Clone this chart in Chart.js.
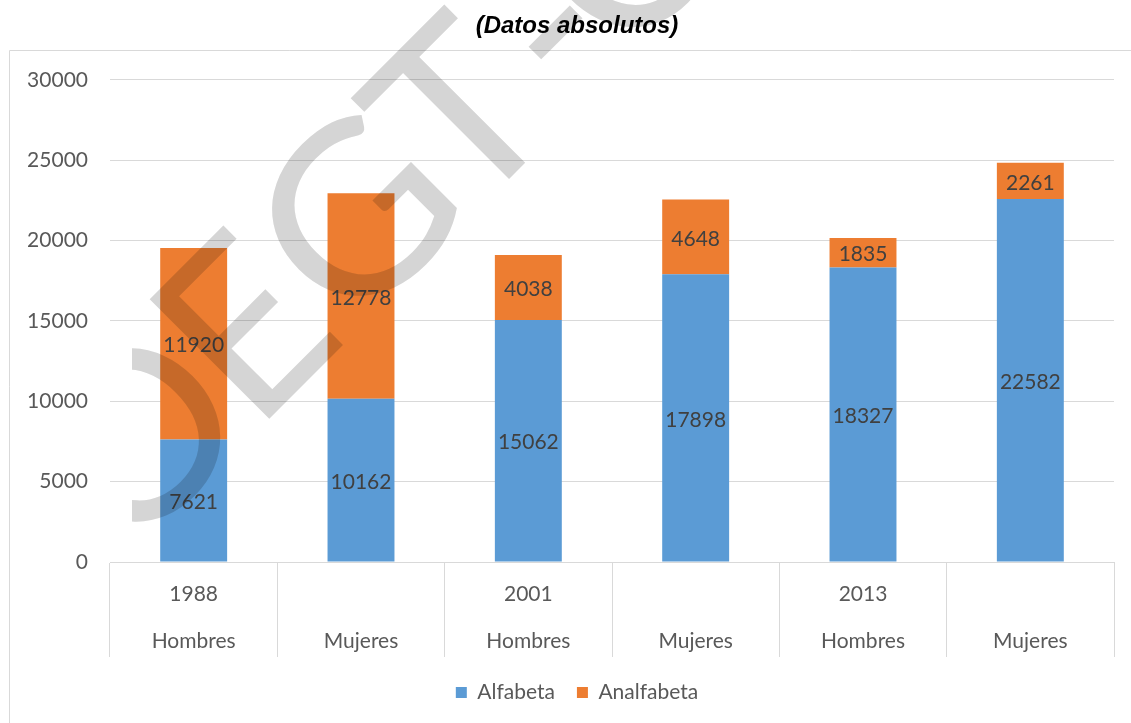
<!DOCTYPE html>
<html>
<head>
<meta charset="utf-8">
<script src="https://cdn.jsdelivr.net/npm/chart.js@4/dist/chart.umd.min.js"></script>
<style>
html,body{margin:0;padding:0;background:#fff;}
#wrap{width:1131px;height:723px;position:relative;}
</style>
</head>
<body>
<div id="wrap"><canvas id="c" width="1131" height="723"></canvas></div>
<script>
const titleText = '(Datos absolutos)';
const years = ['1988', '', '2001', '', '2013', ''];
const genders = ['Hombres', 'Mujeres', 'Hombres', 'Mujeres', 'Hombres', 'Mujeres'];
const alfabeta = [7621, 10162, 15062, 17898, 18327, 22582];
const analfabeta = [11920, 12778, 4038, 4648, 1835, 2261];
const seriesNames = ['Alfabeta', 'Analfabeta'];
const yMin = 0, yMax = 30000, yStep = 5000;
const watermarkLetters = ['O', 'E', 'G', 'T', '-', 'C'];

const labels = years.map((y, i) => [y, genders[i]]);
const FONT = 'Lato, "Open Sans", sans-serif';

const frame = {
  id: 'frame',
  beforeDraw(chart) {
    const ctx = chart.ctx;
    ctx.save();
    ctx.strokeStyle = '#d9d9d9';
    ctx.lineWidth = 1;
    ctx.beginPath();
    ctx.moveTo(9.5, 723);
    ctx.lineTo(9.5, 50.5);
    ctx.lineTo(1131, 50.5);
    ctx.stroke();
    ctx.restore();
  }
};

const valueLabels = {
  id: 'valueLabels',
  afterDatasetsDraw(chart) {
    const ctx = chart.ctx;
    ctx.save();
    ctx.font = '21px ' + FONT;
    ctx.fillStyle = '#404040';
    ctx.textAlign = 'center';
    ctx.textBaseline = 'middle';
    chart.data.datasets.forEach((ds, di) => {
      const meta = chart.getDatasetMeta(di);
      meta.data.forEach((el, i) => {
        const p = el.getProps(['x', 'y', 'base'], true);
        ctx.fillText(String(ds.data[i]), p.x, (p.y + p.base) / 2 + 2);
      });
    });
    ctx.restore();
  }
};

const watermark = {
  id: 'watermark',
  afterDraw(chart) {
    const ctx = chart.ctx;
    ctx.save();
    ctx.beginPath();
    ctx.rect(132, 0, 1131 - 132, 723);
    ctx.clip();
    ctx.globalCompositeOperation = 'multiply';
    ctx.fillStyle = '#d5d5d5';
    ctx.translate(266, 422);
    ctx.rotate(-Math.PI / 4);
    ctx.font = '236px ' + FONT;
    ctx.textAlign = 'center';
    ctx.textBaseline = 'alphabetic';
    const pos = [-103, 51, 210, 355, 480, 582];
    const stretch = [1, 1, 1.05, 1, 1, 1];
    watermarkLetters.forEach((ch, i) => {
      ctx.save();
      ctx.translate(pos[i], 0);
      ctx.scale(stretch[i], 1);
      ctx.fillText(ch, 0, 0);
      ctx.restore();
    });
    ctx.restore();
  }
};

new Chart(document.getElementById('c'), {
  type: 'bar',
  data: {
    labels: labels,
    datasets: [
      { label: seriesNames[0], data: alfabeta, backgroundColor: '#5b9bd5' },
      { label: seriesNames[1], data: analfabeta, backgroundColor: '#ed7d31' }
    ]
  },
  options: {
    responsive: false,
    animation: false,
    devicePixelRatio: 1,
    layout: { padding: { left: 40, right: 17, top: 0, bottom: 10 } },
    datasets: { bar: { categoryPercentage: 1, barPercentage: 0.4 } },
    scales: {
      x: {
        stacked: true,
        offset: true,
        border: { display: true, color: '#d9d9d9', width: 1 },
        grid: { display: true, offset: true, drawOnChartArea: false, drawTicks: true, tickLength: 95, color: '#d9d9d9', lineWidth: 1 },
        ticks: { color: '#595959', font: { family: FONT, size: 21, lineHeight: 47 / 21 }, padding: -86, maxRotation: 0, autoSkip: false },
        afterFit(s) { s.height = 98; }
      },
      y: {
        stacked: true,
        min: yMin, max: yMax,
        border: { display: false },
        grid: { color: '#d9d9d9', lineWidth: 1, drawTicks: false },
        ticks: { stepSize: yStep, color: '#595959', font: { family: FONT, size: 21 }, padding: 22,
          callback: (v) => String(v) },
        afterFit(s) { s.width = 70; s._computeLabelArea = () => null; }
      }
    },
    plugins: {
      title: {
        display: true, text: titleText, color: '#000',
        font: { family: '"Liberation Sans", Arial, sans-serif', size: 24, weight: 'bold', style: 'italic' },
        padding: { top: 12, bottom: 39 }
      },
      legend: {
        position: 'bottom',
        labels: { color: '#595959', font: { family: FONT, size: 21 }, boxWidth: 11, boxHeight: 11, padding: 22 }
      },
      tooltip: { enabled: false }
    }
  },
  plugins: [frame, valueLabels, watermark]
});
</script>
</body>
</html>
